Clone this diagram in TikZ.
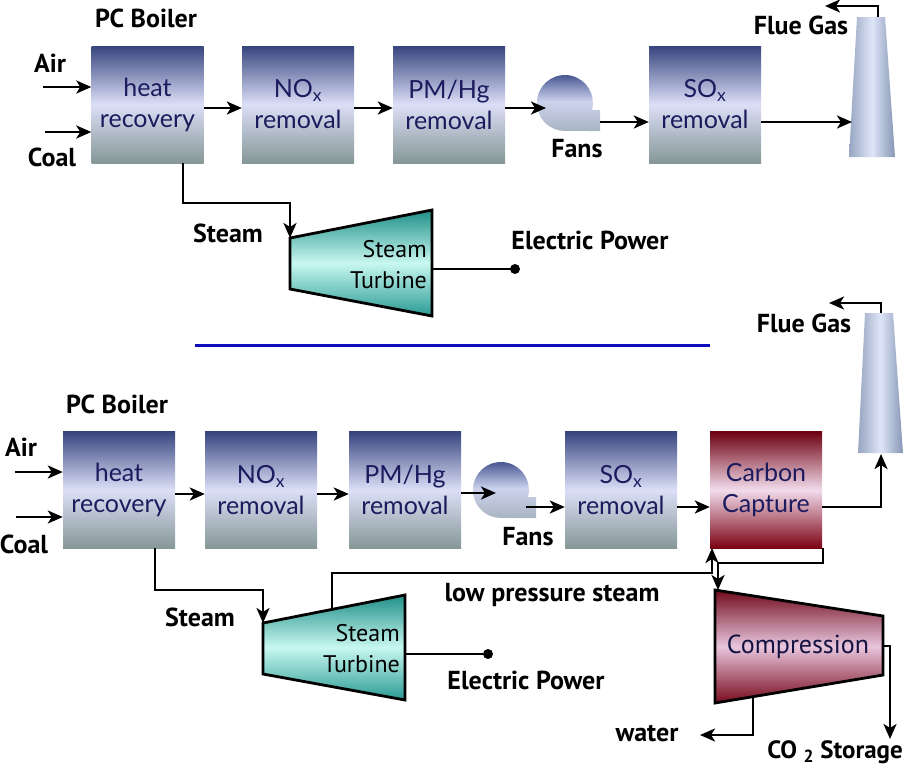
\documentclass[tikz,border=0pt]{standalone}
\usepackage{fontspec}
\setmainfont{PT Sans}
\newfontfamily\boxfont{Lato}
\usetikzlibrary{arrows.meta,calc}
\definecolor{bxtop}{HTML}{37457E}
\definecolor{bxmid}{HTML}{DCDFF7}
\definecolor{bxbot}{HTML}{869797}
\definecolor{bxtext}{HTML}{1B1B5E}
\definecolor{rdtop}{HTML}{6E0010}
\definecolor{rdmid}{HTML}{F2DCEC}
\definecolor{rdbot}{HTML}{7A0010}
\definecolor{cptop}{HTML}{700A1A}
\definecolor{cpmid}{HTML}{E8C6DE}
\definecolor{cpbot}{HTML}{7A0A1C}
\definecolor{tbtop}{HTML}{1F8F88}
\definecolor{tbmid}{HTML}{C8F8F0}
\definecolor{tbbot}{HTML}{2A9A94}
\definecolor{chl}{HTML}{98A6C2}
\definecolor{chm}{HTML}{DEE5F7}
\definecolor{chr}{HTML}{8696B6}
\definecolor{fantop}{HTML}{3A4A88}
\definecolor{fanmid}{HTML}{CDD3EE}
\definecolor{fanbot}{HTML}{A8B4C0}
\definecolor{divblue}{HTML}{0D0DBF}
\begin{document}
\begin{tikzpicture}[x=1pt,y=-1pt,
  arr/.style={draw=black, line width=2.6pt, -{Stealth[length=15pt,width=13pt,inset=4pt]}},
  ln/.style={draw=black, line width=2.6pt},
  lab/.style={font=\bfseries\fontsize{26}{30}\selectfont, inner sep=0pt},
  box/.style={rectangle, minimum width=112pt, minimum height=117pt, inner sep=0pt,
    top color=bxtop, bottom color=bxbot, middle color=bxmid, text=bxtext, align=center,
    font=\boxfont\fontsize{25}{31}\selectfont},
  redbox/.style={box, top color=rdtop, bottom color=rdbot, middle color=rdmid},
  ttext/.style={inner sep=0pt, align=right, font=\fontsize{24}{31}\selectfont, text=black},
  outl/.style={draw=black, line width=2.8pt, line join=miter},
  fanshade/.style={top color=fantop, bottom color=fanbot, middle color=fanmid},
  chshade/.style={left color=chl, right color=chr, middle color=chm},
]
\useasboundingbox (0,0) rectangle (905,766);

%================ TOP ================
\node[box] (hr1)  at (147.5,104.5) {heat\\recovery};
\node[box] (nox1) at (298,104.5) {NO\textsubscript{x}\\removal};
\node[box] (pm1)  at (449,104.5) {PM/Hg\\removal};
\node[box] (sox1) at (705,104.5) {SO\textsubscript{x}\\removal};

% fan
\coordinate (fan1c) at (565,103);
\shade[fanshade] (600,110) -- (592,110) arc[start angle=-14.5, end angle=270, radius=28pt] -- (600,131) -- cycle;
\node[lab] (fans1) at (577,149) {Fans};

% chimney
\coordinate (ch1a) at (857,17);
\coordinate (ch1b) at (885,17);
\coordinate (ch1c) at (895,157);
\coordinate (ch1d) at (849,157);
\shade[chshade] (ch1a) -- (ch1b) -- (ch1c) -- (ch1d) -- cycle;

\node[lab] (pcb1) at (146,18) {PC Boiler};
\node[lab] (air1) at (50,63) {Air};
\node[lab] (coal1) at (52,157) {Coal};
\node[lab] (flue1) at (801,25) {Flue Gas};

\coordinate (air1s) at (43,87);
\coordinate (coal1s) at (45,132);
\draw[arr] (air1s) -- (air1s -| hr1.west);
\draw[arr] (coal1s) -- (coal1s -| hr1.west);
\coordinate (r1y) at (0,108);
\draw[arr] (hr1.east |- r1y) -- (nox1.west |- r1y);
\draw[arr] (nox1.east |- r1y) -- (pm1.west |- r1y);
\coordinate (fan1in) at (546,108);
\draw[arr] (pm1.east |- fan1in) -- (fan1in);
\coordinate (fan1out) at (600,122);
\draw[arr] (fan1out) -- (sox1.west |- fan1out);
\coordinate (ch1in) at (852,122);
\draw[arr] (sox1.east |- ch1in) -- (ch1in);
\coordinate (ch1top) at (878,17);
\coordinate (flue1end) at (825,6);
\draw[arr] (ch1top) |- (flue1end);

% turbine
\coordinate (t1a) at (290,238);
\coordinate (t1b) at (432,210);
\coordinate (t1c) at (432,316);
\coordinate (t1d) at (290,289);
\shade[top color=tbtop, bottom color=tbbot, middle color=tbmid] (t1a) -- (t1b) -- (t1c) -- (t1d) -- cycle;
\draw[outl] (t1a) -- (t1b) -- (t1c) -- (t1d) -- cycle;
\node[ttext, anchor=east] (t1txt) at (427,265) {Steam\\Turbine};

\coordinate (st1s) at (183,163);
\draw[arr] (st1s) -- ++(0,40) -| (t1a);
\node[lab] (steam1) at (228,233) {Steam};

\coordinate (t1out) at (432,269);
\coordinate (ep1) at (515,269);
\draw[ln] (t1out) -- (ep1);
\fill (ep1) circle[radius=5pt];
\node[lab] (elec1) at (590,240) {Electric Power};

% divider
\coordinate (divl) at (195,345);
\coordinate (divr) at (710,345);
\draw[divblue, line width=3pt] (divl) -- (divr);

%================ BOTTOM ================
\node[box] (hr2)  at (119,490) {heat\\recovery};
\node[box] (nox2) at (261,490) {NO\textsubscript{x}\\removal};
\node[box] (pm2)  at (405,490) {PM/Hg\\removal};
\node[box] (sox2) at (621,490) {SO\textsubscript{x}\\removal};
\node[redbox] (cc) at (766,490) {Carbon\\Capture};

\coordinate (fan2c) at (501,490);
\shade[fanshade] (536,497) -- (528,497) arc[start angle=-14.5, end angle=270, radius=28pt] -- (536,518) -- cycle;
\node[lab] (fans2) at (528,537) {Fans};

\coordinate (ch2a) at (865,313);
\coordinate (ch2b) at (893,313);
\coordinate (ch2c) at (903,453);
\coordinate (ch2d) at (858,453);
\shade[chshade] (ch2a) -- (ch2b) -- (ch2c) -- (ch2d) -- cycle;

\node[lab] (pcb2) at (117,404) {PC Boiler};
\node[lab] (air2) at (21,447) {Air};
\node[lab] (coal2) at (24,544) {Coal};
\node[lab] (flue2) at (804,323) {Flue Gas};

\coordinate (air2s) at (15,472);
\coordinate (coal2s) at (16,517);
\draw[arr] (air2s) -- (air2s -| hr2.west);
\draw[arr] (coal2s) -- (coal2s -| hr2.west);
\coordinate (r2y) at (0,494);
\draw[arr] (hr2.east |- r2y) -- (nox2.west |- r2y);
\draw[arr] (nox2.east |- r2y) -- (pm2.west |- r2y);
\coordinate (fan2in) at (496,493);
\draw[arr] (pm2.east |- fan2in) -- (fan2in);
\coordinate (fan2out) at (526,507);
\draw[arr] (fan2out) -- (sox2.west |- fan2out);
\coordinate (r3y) at (0,507);
\draw[arr] (sox2.east |- r3y) -- (cc.west |- r3y);
\coordinate (ch2in) at (881,454);
\draw[arr] (cc.east |- r3y) -| (ch2in);
\coordinate (ch2top) at (881,313);
\coordinate (flue2end) at (829,303);
\draw[arr] (ch2top) |- (flue2end);

% turbine 2
\coordinate (t2a) at (263,623);
\coordinate (t2b) at (405,595);
\coordinate (t2c) at (405,700);
\coordinate (t2d) at (263,674);
\shade[top color=tbtop, bottom color=tbbot, middle color=tbmid] (t2a) -- (t2b) -- (t2c) -- (t2d) -- cycle;
\draw[outl] (t2a) -- (t2b) -- (t2c) -- (t2d) -- cycle;
\node[ttext, anchor=east] (t2txt) at (400,649) {Steam\\Turbine};

\coordinate (st2s) at (155,548);
\draw[arr] (st2s) -- ++(0,42) -| (t2a);
\node[lab] (steam2) at (200,617) {Steam};

\coordinate (t2out) at (405,654);
\coordinate (ep2) at (488,654);
\draw[ln] (t2out) -- (ep2);
\fill (ep2) circle[radius=5pt];
\node[lab] (elec2) at (526,680) {Electric Power};

% low pressure steam
\coordinate (lps) at (332,609.4);
\coordinate (ccin) at (712,548);
\draw[arr] (lps) -- ++(0,-36.4) -| (ccin);
\node[lab] (lpsl) at (552,595) {low pressure steam};

% compression
\coordinate (cpa) at (715,590);
\coordinate (cpb) at (883,616);
\coordinate (cpc) at (883,675);
\coordinate (cpd) at (715,703);
\shade[top color=cptop, bottom color=cpbot, middle color=cpmid] (cpa) -- (cpb) -- (cpc) -- (cpd) -- cycle;
\draw[outl] (cpa) -- (cpb) -- (cpc) -- (cpd) -- cycle;
\node[inner sep=0pt, font=\fontsize{26}{30}\selectfont, text=bxtext!70!black] (cmp) at (798,647) {Compression};

\coordinate (ccout) at (823,548);
\coordinate (cmpin) at (718,590);
\draw[arr] (ccout) -- ++(0,15) -| (cmpin);

\coordinate (cmpout) at (883,646);
\coordinate (co2end) at (890,739);
\draw[arr] (cmpout) -| (co2end);
\node[lab, anchor=east, font=\bfseries\fontsize{25}{30}\selectfont] (co2) at (903,752) {CO \textsubscript{2} Storage};

\coordinate (wat) at (753,697);
\coordinate (watend) at (700,735);
\draw[arr] (wat) |- (watend);
\node[lab] (water) at (647,733) {water};
\end{tikzpicture}
\end{document}
